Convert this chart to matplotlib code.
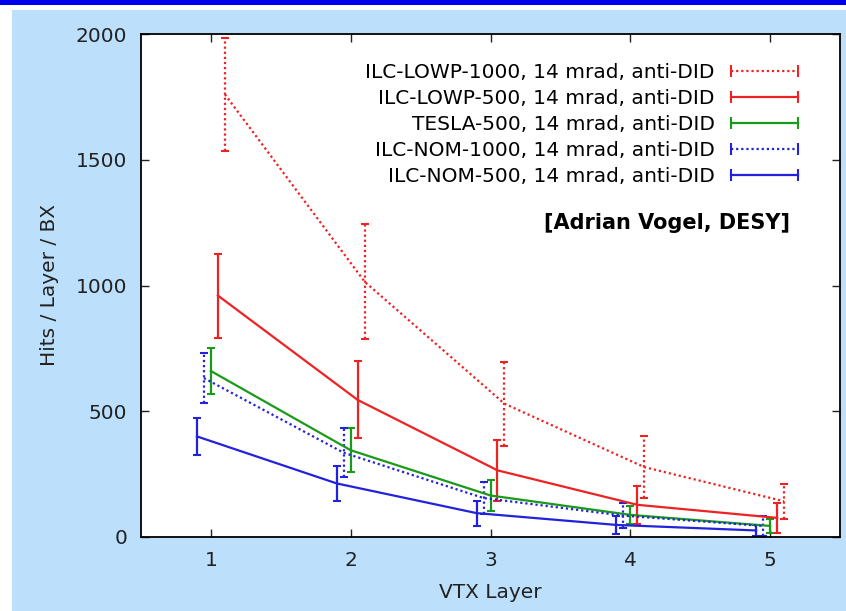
import matplotlib
matplotlib.use('Agg')
import matplotlib.pyplot as plt
from matplotlib.lines import Line2D
from matplotlib.legend_handler import HandlerLine2D
from matplotlib.patches import Rectangle

# VTX layer number
layers = [1, 2, 3, 4, 5]

labels = ['ILC-LOWP-1000, 14 mrad, anti-DID',
          'ILC-LOWP-500, 14 mrad, anti-DID',
          'TESLA-500, 14 mrad, anti-DID',
          'ILC-NOM-1000, 14 mrad, anti-DID',
          'ILC-NOM-500, 14 mrad, anti-DID']

# hits / layer / BX
lowp1000 = [1760, 1015, 530, 278, 142]
lowp1000_err = [225, 228, 167, 123, 70]
lowp500 = [960, 545, 265, 128, 76]
lowp500_err = [167, 153, 120, 76, 60]
tesla500 = [660, 345, 165, 88, 44]
tesla500_err = [90, 88, 60, 36, 28]
nom1000 = [632, 335, 155, 85, 44]
nom1000_err = [100, 97, 62, 50, 40]
nom500 = [400, 213, 95, 48, 26]
nom500_err = [73, 68, 50, 36, 22]

red = '#ee2222'
green = '#1a9a1a'
blue = '#2222dd'
dots = (0, (1, 1.3))

series = [
    (lowp1000, lowp1000_err, red, dots, 0.1),
    (lowp500, lowp500_err, red, '-', 0.05),
    (tesla500, tesla500_err, green, '-', 0.0),
    (nom1000, nom1000_err, blue, dots, -0.05),
    (nom500, nom500_err, blue, '-', -0.1),
]

plt.rcParams['font.family'] = 'DejaVu Sans'

fig = plt.figure(figsize=(8.46, 6.11), dpi=100)
fig.patch.set_facecolor('white')
# slide background
fig.patches.append(Rectangle((12 / 846, 0), 1, (611 - 10) / 611, transform=fig.transFigure,
                             facecolor='#bcdffb', edgecolor='none', zorder=-2))
fig.patches.append(Rectangle((0, 606 / 611), 1, 5 / 611, transform=fig.transFigure,
                             facecolor='#0000ee', edgecolor='none', zorder=-2))

ax = fig.add_axes([141 / 846, 1 - 537 / 611, (840 - 141) / 846, (537 - 34) / 611])
ax.set_facecolor('white')

handles = []
for (y, err, col, ls, off), lab in zip(series, labels):
    xs = [l + off for l in layers]
    eb = ax.errorbar(xs, y, yerr=err, color=col, linestyle=ls, linewidth=1.6,
                     elinewidth=1.6, capsize=3, capthick=1.5)
    if ls != '-':
        eb[2][0].set_linestyle(dots)
    handles.append(Line2D([], [], color=col, linestyle=ls, linewidth=1.6,
                          marker='|', markersize=8, markeredgewidth=1.5, label=lab))

ax.set_xlim(0.5, 5.5)
ax.set_ylim(0, 2000)
ax.set_xticks(layers)
ax.set_yticks([0, 500, 1000, 1500, 2000])
ax.tick_params(direction='in', top=True, right=True, length=6, width=1,
               labelsize=14.5, pad=10, colors='#222222', labelcolor='#222222')
for s in ax.spines.values():
    s.set_linewidth(1.3)

ax.set_xlabel('VTX Layer', fontsize=14.5, color='#222222')
ax.set_ylabel('Hits / Layer / BX', fontsize=14.5, color='#222222')
ax.xaxis.set_label_coords(0.5, -0.092)
ax.yaxis.set_label_coords(-0.117, 0.5)

hmap = {h: HandlerLine2D(marker_pad=0, numpoints=2) for h in handles}
ax.legend(handles=handles, loc='upper right', bbox_to_anchor=(0.94, 0.942),
          frameon=False, markerfirst=False, fontsize=14.5, handlelength=3.33,
          handletextpad=0.8, labelspacing=0.35, borderpad=0, borderaxespad=0,
          handler_map=hmap)

ax.text(0.928, 0.625, '[Adrian Vogel, DESY]', transform=ax.transAxes, ha='right',
        va='center', fontsize=15, fontweight='bold')

plt.savefig('out.png', dpi=100)
